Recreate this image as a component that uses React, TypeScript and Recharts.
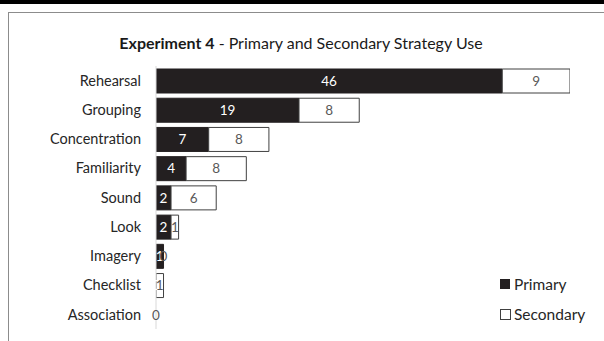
import React from "react";
import { BarChart, Bar, XAxis, YAxis, LabelList, Legend, Cell } from "recharts";

const categories = ["Rehearsal", "Grouping", "Concentration", "Familiarity", "Sound", "Look", "Imagery", "Checklist", "Association"];
const primary = [46, 19, 7, 4, 2, 2, 1, 0, 0];
const secondary = [9, 8, 8, 8, 6, 1, 0, 1, 0];

const data = categories.map((c, i) => ({ name: c, Primary: primary[i], Secondary: secondary[i] }));

const FONT = "Lato, 'Open Sans', sans-serif";

const LegendContent = () => (
  <div style={{ fontFamily: FONT, fontSize: 15.5, color: "#262626", textAlign: "left" }}>
    <div style={{ display: "flex", alignItems: "center", height: 30 }}>
      <span style={{ display: "inline-block", width: 10, height: 10, background: "#231f20", border: "1px solid #231f20", marginRight: 4, boxSizing: "border-box" }} />
      Primary
    </div>
    <div style={{ display: "flex", alignItems: "center", height: 30 }}>
      <span style={{ display: "inline-block", width: 11, height: 11, background: "#fff", border: "1px solid #404040", marginRight: 3, boxSizing: "border-box" }} />
      Secondary
    </div>
  </div>
);

export default function App() {
  return (
    <div style={{ position: "absolute", left: 0, top: 0, width: 604, height: 341, background: "#fff", overflow: "hidden" }}>
      <div style={{ position: "absolute", left: 0, top: 0, width: 604, height: 4, background: "#000" }} />
      <div style={{ position: "absolute", left: 8, top: 12, width: 620, height: 360, border: "1px solid #8c8c8c", boxSizing: "border-box" }} />
      <div style={{ position: "absolute", left: 0, top: 33, width: 602, textAlign: "center", fontFamily: FONT, fontSize: 16, color: "#1a1a1a" }}>
        <b>Experiment 4</b> - Primary and Secondary Strategy Use
      </div>
      <div style={{ position: "absolute", left: 0, top: 0 }}>
        <BarChart width={604} height={341} data={data} layout="vertical" barSize={24} barGap={0}
          margin={{ top: 66, right: 34, bottom: 12, left: 0 }}>
          <XAxis type="number" domain={[0, 55]} allowDataOverflow hide />
          <YAxis type="category" dataKey="name" width={156} tickLine={false} tickSize={0} tickMargin={15}
            axisLine={{ stroke: "#d9d9d9" }} interval={0}
            tick={{ fontFamily: FONT, fontSize: 14.5, fill: "#262626" }} />
          <Legend layout="vertical" verticalAlign="middle" align="center" content={<LegendContent />}
            wrapperStyle={{ position: "absolute", left: 500, top: 269, width: 110 }} />
          <Bar dataKey="Primary" stackId="a" fill="#231f20" minPointSize={0.01} isAnimationActive={false}>
            {primary.map((v, i) => (
              <Cell key={i} stroke={v === 0 ? "none" : "#231f20"} />
            ))}
            <LabelList dataKey="Primary" position="center" fill="#ffffff" style={{ fontFamily: FONT, fontSize: 13.5 }} />
          </Bar>
          <Bar dataKey="Secondary" stackId="a" fill="#ffffff" minPointSize={0.01} isAnimationActive={false}>
            {secondary.map((v, i) => (
              <Cell key={i} stroke={v === 0 ? "none" : "#404040"} />
            ))}
            <LabelList dataKey="Secondary" position="center" fill="#595959" style={{ fontFamily: FONT, fontSize: 13.5 }} />
          </Bar>
        </BarChart>
      </div>
    </div>
  );
}
